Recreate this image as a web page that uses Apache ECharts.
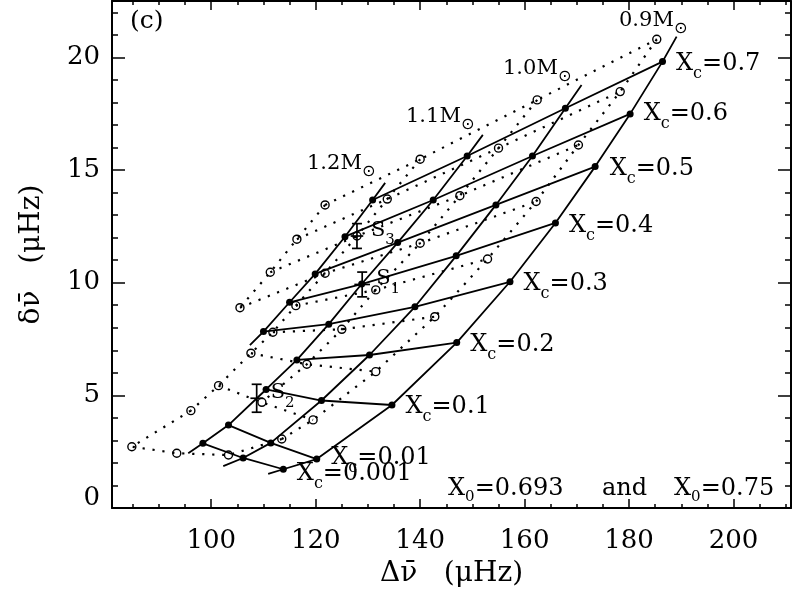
<!DOCTYPE html>
<html><head><meta charset="utf-8">
<script src="https://cdn.jsdelivr.net/npm/echarts@6/dist/echarts.min.js"></script>
<style>html,body{margin:0;padding:0;background:#fff}#c{width:794px;height:613px}</style>
</head><body><div id="c"></div>
<script>
// ---------------- data ----------------
const xcLevels = ['0.7','0.6','0.5','0.4','0.3','0.2','0.1','0.01','0.001'];
const massLabels = ['0.9','1.0','1.1','1.2'];

// solid grid (filled dots), nodes ordered as xcLevels  [Δν, δν]
const solid09 = [[186.4,19.81],[180.2,17.49],[173.5,15.15],[165.9,12.65],[157.2,10.04],[147.0,7.34],[134.6,4.57],[120.2,2.17],[113.8,1.72]];
const solid10 = [[167.8,17.74],[161.5,15.62],[154.5,13.45],[146.9,11.19],[139.0,8.93],[130.3,6.79],[121.1,4.77],[111.4,2.89],[106.1,2.22]];
const solid11 = [[149.0,15.62],[142.5,13.67],[135.7,11.78],[128.8,9.94],[122.5,8.16],[116.4,6.57],[110.5,5.26],[103.3,3.68],[98.4,2.87]];
const solid12 = [[130.9,13.67],[125.6,12.04],[119.9,10.39],[115.0,9.13],[110.0,7.83]];
// ends of the solid mass tracks (0.9, 1.0, 1.1, 1.2 Msun)
const solidTop    = [[189.1,20.92],[170.9,18.77],[152.0,16.56],[133.3,14.43]];
const solidBottom = [[110.9,1.51],[102.3,1.86],[95.6,2.43],[107.4,7.23]];

// dotted grid (open circles)
const dotted09 = [[185.3,20.80],[178.3,18.48],[170.3,16.11],[162.2,13.60],[152.9,11.05],[142.8,8.49],[131.5,6.05],[119.5,3.91],[113.5,3.06]];
const dotted10 = [[162.4,18.11],[155.0,15.97],[147.6,13.86],[140.0,11.75],[131.5,9.68],[125.0,7.93],[118.3,6.38],[109.7,4.69]];
const dotted11 = [[140.0,15.48],[133.7,13.71],[127.9,12.07],[121.8,10.42],[116.2,8.98],[111.8,7.80],[107.6,6.87],[101.4,5.43],[96.1,4.32]];
const dotted12 = [[121.8,13.45],[116.4,11.93],[111.3,10.46],[105.5,8.89]];
const dottedLow = [[96.1,4.32],[84.8,2.72],[93.4,2.43],[103.3,2.35],[113.5,3.06]];

// observed stars
const starIds   = ['1','2','3'];
const starX     = [128.9,108.7,127.9];
const starY     = [9.92,4.87,12.07];
const starYErr  = [0.55,0.62,0.55];
const starXErr  = [1.5,1.2,1.2];

// axis ticks
const xMajor = [100,120,140,160,180,200];
const xMinor = [85,90,95,105,110,115,125,130,135,145,150,155,165,170,175,185,190,195,205,210];
const yMajor = [0,5,10,15,20];
const yLabelVals = [0.45,5,10,15,20];
const yMinor = [1,2,3,4,6,7,8,9,11,12,13,14,16,17,18,19,21,22];

// ---------------- chart ----------------
const FONT = "'DejaVu Serif', serif";
const chart = echarts.init(document.getElementById('c'));
const series = [];
function addLine(pts, dotted) {
  series.push({type:'line', data:pts, symbol:'none', showSymbol:false, silent:true, z:2,
    lineStyle:{color:'#000', opacity:1, width: dotted ? 2.2 : 1.8, type: dotted ? [2.2,7.8] : 'solid'}});
}
const solidTracks = [solid09, solid10, solid11, solid12];
solidTracks.forEach((t,k) => addLine([solidTop[k]].concat(t, [solidBottom[k]]), false));
xcLevels.forEach((lv,i) => {
  const pts = [solid12[i], solid11[i], solid10[i], solid09[i]].filter(Boolean);
  if (pts.length > 1) addLine(pts, false);
});
const dottedTracks = [dotted09, dotted10, dotted11, dotted12];
dottedTracks.forEach(t => addLine(t, true));
xcLevels.slice(0,8).forEach((lv,i) => {
  const pts = [dotted12[i], dotted11[i], dotted10[i], dotted09[i]].filter(Boolean);
  if (pts.length > 1) addLine(pts, true);
});
addLine(dottedLow, true);

// open circles
series.push({type:'scatter', z:4, silent:true, symbol:'circle', symbolSize:8,
  itemStyle:{color:'rgba(255,255,255,0)', borderColor:'#000', borderWidth:1.4, opacity:1},
  data: [].concat(dotted09, dotted10, dotted11, dotted12, dottedLow.slice(1,4))});
// filled dots
series.push({type:'scatter', z:5, silent:true, symbol:'circle', symbolSize:7,
  itemStyle:{color:'#000', opacity:1}, data: [].concat(solid10, solid11, solid12)});
// 0.9 Msun nodes with Xc labels
const xcOffsets = [[0,5],[0,3],[1,5],[0,6],[0,5],[0,5],[0,5],[1,2],[0,8]];
series.push({type:'scatter', z:5, silent:true, symbol:'circle', symbolSize:7,
  itemStyle:{color:'#000', opacity:1},
  data: solid09.map((p,i) => ({value:p, label:{offset:xcOffsets[i]}})),
  label:{show:true, position:'right', distance:10, color:'#000', opacity:1, textBorderWidth:0,
    formatter: p => '{x|X}{s|c}{x|=' + xcLevels[p.dataIndex] + '}',
    rich:{ x:{fontFamily:FONT, fontSize:24, lineHeight:24, verticalAlign:'top', color:'#000'},
           s:{fontFamily:FONT, fontSize:16, lineHeight:30, verticalAlign:'bottom', color:'#000'} }}});
// stars
series.push({type:'custom', z:6, silent:true,
  data: starX.map((x,i) => [x, starY[i], starYErr[i], starXErr[i]]),
  encode:{x:0, y:1},
  renderItem: (params, api) => {
    const x = api.value(0), y = api.value(1), ey = api.value(2), ex = api.value(3);
    const c = api.coord([x,y]), t = api.coord([x,y+ey]), b = api.coord([x,y-ey]);
    const l = api.coord([x-ex,y]), r = api.coord([x+ex,y]);
    const st = {stroke:'#000', lineWidth:1.7};
    const cw = 5;
    return {type:'group', children:[
      {type:'line', shape:{x1:c[0],y1:t[1],x2:c[0],y2:b[1]}, style:st},
      {type:'line', shape:{x1:c[0]-cw,y1:t[1],x2:c[0]+cw,y2:t[1]}, style:st},
      {type:'line', shape:{x1:c[0]-cw,y1:b[1],x2:c[0]+cw,y2:b[1]}, style:st},
      {type:'line', shape:{x1:l[0],y1:c[1],x2:r[0],y2:c[1]}, style:st},
      {type:'text', x:c[0]+14, y:c[1]-16, style:{
        text:'{a|S}{b|' + starIds[params.dataIndex] + '}', align:'left', verticalAlign:'top',
        rich:{a:{fontFamily:FONT, fontSize:21, lineHeight:22, verticalAlign:'top', fill:'#000'},
              b:{fontFamily:FONT, fontSize:15, lineHeight:28, verticalAlign:'bottom', fill:'#000'}}}}
    ]};
  }});

function xAx(pos, ticks, len, labels, line) {
  return {type:'value', min:81, max:211, position:pos,
    axisLine:{show:line, onZero:false, lineStyle:{color:'#000', width:2}},
    axisTick:{show:true, inside:true, length:len, customValues:ticks, lineStyle:{color:'#000', width:1.5}},
    axisLabel:{show:!!labels, customValues:labels || ticks, margin:20, color:'#000', fontFamily:FONT, fontSize:26},
    splitLine:{show:false}};
}
function yAx(pos, ticks, len, labels, line) {
  return {type:'value', min:0, max:22.5, position:pos,
    axisLine:{show:line, onZero:false, lineStyle:{color:'#000', width:2}},
    axisTick:{show:true, inside:true, length:len, customValues:ticks, lineStyle:{color:'#000', width:1.5}},
    axisLabel:{show:!!labels, customValues:labels || ticks, margin:12, color:'#000', fontFamily:FONT, fontSize:26,
      formatter: v => String(Math.round(v))},
    splitLine:{show:false}};
}
const xAxes = [xAx('bottom', xMajor, 9, xMajor, true), xAx('bottom', xMinor, 4, null, false),
               xAx('top', xMajor, 9, null, true), xAx('top', xMinor, 4, null, false)];
xAxes[0].name = 'Δν\u0304   (μHz)';
xAxes[0].nameLocation = 'middle';
xAxes[0].nameGap = 52;
xAxes[0].nameTextStyle = {fontFamily:FONT, fontSize:28, color:'#000'};
const yAxes = [yAx('left', yMajor, 13, yLabelVals, true), yAx('left', yMinor, 6, null, false),
               yAx('right', yMajor, 13, null, true), yAx('right', yMinor, 6, null, false)];
yAxes[0].name = 'δν\u0304   (μHz)';
yAxes[0].nameLocation = 'middle';
yAxes[0].nameRotate = 90;
yAxes[0].nameGap = 66;
yAxes[0].nameTextStyle = {fontFamily:FONT, fontSize:28, color:'#000'};

const massRich = {m:{fontFamily:FONT, fontSize:21, lineHeight:22, verticalAlign:'top', fill:'#000'},
                  o:{fontFamily:"'DejaVu Sans', sans-serif", fontSize:16, lineHeight:27, verticalAlign:'bottom', fill:'#000'}};
const subRich = {x:{fontFamily:FONT, fontSize:24, lineHeight:24, verticalAlign:'top', fill:'#000'},
                 s:{fontFamily:FONT, fontSize:15, lineHeight:28, verticalAlign:'bottom', fill:'#000'}};
const massPos = [[619,10],[503,58],[406,106],[307,153]];
const graphics = massLabels.map((m,k) => ({type:'text', x:massPos[k][0], y:massPos[k][1], z:10,
  style:{text:'{m|' + m + 'M}{o|⊙}', rich:massRich, align:'left', verticalAlign:'top'}}));
graphics.push({type:'text', x:130, y:9, z:10, style:{text:'(c)', fontFamily:FONT, fontSize:25, fill:'#000', align:'left', verticalAlign:'top'}});
graphics.push({type:'text', x:448, y:477, z:10, style:{text:'{x|X}{s|0}{x|=0.693}', rich:subRich, align:'left', verticalAlign:'top'}});
graphics.push({type:'text', x:602, y:477, z:10, style:{text:'{x|and}', rich:subRich, align:'left', verticalAlign:'top'}});
graphics.push({type:'text', x:674, y:477, z:10, style:{text:'{x|X}{s|0}{x|=0.75}', rich:subRich, align:'left', verticalAlign:'top'}});

chart.setOption({
  animation:false, backgroundColor:'#fff',
  grid:{left:112, right:3, top:1, bottom:105, containLabel:false},
  xAxis:xAxes, yAxis:yAxes, series:series, graphic:graphics
});
</script></body></html>
